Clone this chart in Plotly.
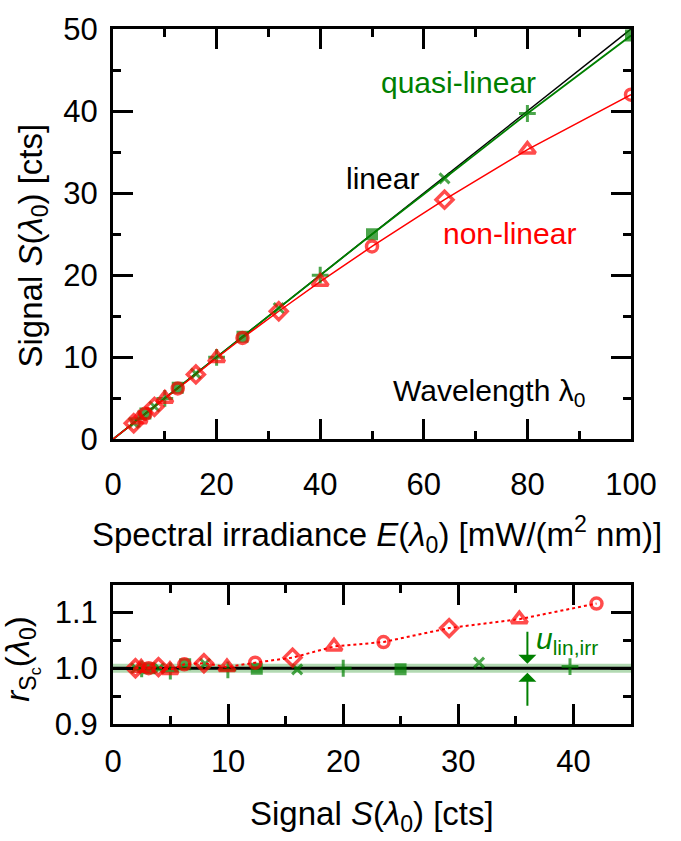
import plotly.graph_objects as go

# ---------------- data ----------------
E_irr = [4, 5, 6.25, 8, 10, 12.5, 16, 20, 25, 32, 40, 50, 64, 80, 100]
S_quasi = [2.0, 2.49, 3.13, 4.0, 4.98, 6.27, 8.0, 9.98, 12.49, 16.0, 20.0, 24.98, 31.8, 39.7, 49.2]
S_nonlin = [1.95, 2.45, 3.1, 3.95, 4.95, 6.2, 7.9, 9.9, 12.35, 15.6, 19.2, 23.5, 29.2, 35.3, 42.0]
E_linear = [0, 100]
S_linear = [0, 50]

r_quasi = [1.0, 0.999, 1.0, 1.0, 0.995, 1.007, 1.008, 0.997, 0.999, 0.998, 1.0, 0.998, 1.010, 1.003]
r_nonlin = [1.0, 1.001, 1.0, 1.002, 0.997, 1.007, 1.009, 1.002, 1.010, 1.019, 1.039, 1.047, 1.072, 1.088, 1.116]
u_lin_irr = 0.008
arrow_S = 36.0
arrow_tail_hi = 1.068
arrow_tail_lo = 0.930

x_ticks_top = [0, 20, 40, 60, 80, 100]
y_ticks_top = [0, 10, 20, 30, 40, 50]
x_ticks_bot = [0, 10, 20, 30, 40]
y_ticks_bot = [0.9, 1.0, 1.1]

# ---------------- styles ----------------
RED = "#ff0000"
GREEN = "#008000"
FONT = "Liberation Sans, Arial, sans-serif"
FS = 30       # in-plot labels
FS_T = 33     # axis titles
FS_K = 31     # tick labels

red_sym_cycle = ["diamond-open", "triangle-up-open", "circle-open"]
red_size_cycle = [13, 14, 11]
green_sym_cycle = ["x-thin-open", "cross-thin-open", "square"]
green_size_cycle = [10, 12, 9]

def cyc(lst, n):
    return [lst[i % 3] for i in range(n)]

n = len(E_irr)
fig = go.Figure()

# ---- top panel ----
fig.add_trace(go.Scatter(x=E_linear, y=S_linear, mode="lines",
                         line=dict(color="black", width=1.5), xaxis="x", yaxis="y", showlegend=False))
fig.add_trace(go.Scatter(x=[0] + E_irr, y=[0] + S_quasi, mode="lines",
                         line=dict(color=GREEN, width=1.8), xaxis="x", yaxis="y", showlegend=False))
fig.add_trace(go.Scatter(x=[0] + E_irr, y=[0] + S_nonlin, mode="lines",
                         line=dict(color=RED, width=1.5), xaxis="x", yaxis="y", showlegend=False))
fig.add_trace(go.Scatter(x=E_irr, y=S_quasi, mode="markers",
                         marker=dict(symbol=cyc(green_sym_cycle, n), size=cyc(green_size_cycle, n),
                                     color=GREEN, line=dict(color=GREEN, width=3)),
                         xaxis="x", yaxis="y", showlegend=False))
fig.add_trace(go.Scatter(x=E_irr, y=S_nonlin, mode="markers",
                         marker=dict(symbol=cyc(red_sym_cycle, n), size=cyc(red_size_cycle, n),
                                     color=RED, line=dict(color=RED, width=3.5)),
                         xaxis="x", yaxis="y", showlegend=False))

# ---- bottom panel ----
nq = len(r_quasi)
fig.add_trace(go.Scatter(x=S_quasi[:nq], y=r_quasi, mode="markers",
                         marker=dict(symbol=cyc(green_sym_cycle, nq), size=cyc(green_size_cycle, nq),
                                     color=GREEN, line=dict(color=GREEN, width=3)),
                         xaxis="x2", yaxis="y2", showlegend=False))
fig.add_trace(go.Scatter(x=S_nonlin, y=r_nonlin, mode="lines+markers",
                         line=dict(color=RED, width=2, dash="dot"),
                         marker=dict(symbol=cyc(red_sym_cycle, n), size=cyc(red_size_cycle, n),
                                     color=RED, line=dict(color=RED, width=3.5)),
                         xaxis="x2", yaxis="y2", showlegend=False))

# band and reference line
fig.add_shape(type="rect", xref="x2 domain", yref="y2", x0=0, x1=1,
              y0=1 - u_lin_irr, y1=1 + u_lin_irr, fillcolor="rgba(0,128,0,0.3)",
              line=dict(width=0), layer="below")
fig.add_shape(type="line", xref="x2 domain", yref="y2", x0=0, x1=1, y0=1, y1=1,
              line=dict(color="black", width=3), layer="below")

axis_common = dict(showline=True, linecolor="black", linewidth=3, mirror="allticks",
                   ticks="inside", ticklen=20, tickwidth=3, tickcolor="black",
                   showgrid=False, zeroline=False,
                   tickfont=dict(family=FONT, size=FS_K, color="black"))

def minor(d):
    return dict(dtick=d, ticklen=8, tickwidth=3, ticks="inside", tickcolor="black")

fig.update_layout(
    width=681, height=841,
    margin=dict(l=113, r=50, t=21, b=117),
    paper_bgcolor="white", plot_bgcolor="white",
    font=dict(family=FONT, size=FS, color="black"),
    xaxis=dict(domain=[0, 1], anchor="y", range=[0, 100], tickvals=x_ticks_top,
               minor=minor(10), ticklabelstandoff=16, **axis_common),
    yaxis=dict(domain=[0.4097, 1], anchor="x", range=[0, 50], tickvals=y_ticks_top,
               minor=minor(5), ticklabelstandoff=6, **axis_common),
    xaxis2=dict(domain=[0, 1], anchor="y2", range=[0, 45], tickvals=x_ticks_bot,
                minor=minor(5), ticklabelstandoff=8, **axis_common),
    yaxis2=dict(domain=[0, 0.2006], anchor="x2", range=[0.9, 1.15], tickvals=y_ticks_bot,
                tickformat=".1f", minor=minor(0.05), ticklabelstandoff=6, **axis_common),
)

ann = []
# axis titles
ann.append(dict(text="Spectral irradiance <i>E</i>(<i>λ</i><sub>0</sub>) [mW/(m<sup>2</sup> nm)]",
                xref="paper", yref="paper", x=0.51, y=0.2731, xanchor="center", yanchor="middle",
                showarrow=False, font=dict(size=FS_T)))
ann.append(dict(text="Signal <i>S</i>(<i>λ</i><sub>0</sub>) [cts]",
                xref="paper", yref="paper", x=0.5, y=-0.1323, xanchor="center", yanchor="middle",
                showarrow=False, font=dict(size=FS_T)))
ann.append(dict(text="Signal <i>S</i>(<i>λ</i><sub>0</sub>) [cts]", textangle=-90,
                xref="paper", yref="paper", x=-0.1544, y=0.6885, xanchor="center", yanchor="middle",
                showarrow=False, font=dict(size=FS_T)))
ann.append(dict(text="<i>r</i><sub>S<sub>c</sub></sub>(<i>λ</i><sub>0</sub>)", textangle=-90,
                xref="paper", yref="paper", x=-0.1757, y=0.0939, xanchor="center", yanchor="middle",
                showarrow=False, font=dict(size=FS_T)))
# in-plot labels
ann.append(dict(text="quasi-linear", xref="x", yref="y", x=51.3, y=43.5, xanchor="left",
                yanchor="middle", showarrow=False, font=dict(size=FS, color=GREEN)))
ann.append(dict(text="linear", xref="x", yref="y", x=44.5, y=31.8, xanchor="left",
                yanchor="middle", showarrow=False, font=dict(size=FS, color="black")))
ann.append(dict(text="non-linear", xref="x", yref="y", x=63.4, y=25.1, xanchor="left",
                yanchor="middle", showarrow=False, font=dict(size=FS, color=RED)))
ann.append(dict(text="Wavelength λ<sub>0</sub>", xref="x", yref="y", x=53.6, y=5.7, xanchor="left",
                yanchor="middle", showarrow=False, font=dict(size=FS, color="black")))
ann.append(dict(text="<i>u</i><sub>lin,irr</sub>", xref="x2", yref="y2", x=36.6, y=1.05,
                xanchor="left", yanchor="middle", showarrow=False,
                font=dict(size=30, color=GREEN)))
# arrows
ann.append(dict(text="", xref="x2", yref="y2", axref="x2", ayref="y2",
                x=arrow_S, y=1 + u_lin_irr, ax=arrow_S, ay=arrow_tail_hi,
                showarrow=True, arrowhead=1, arrowsize=1.5, arrowwidth=2, arrowcolor=GREEN, standoff=0))
ann.append(dict(text="", xref="x2", yref="y2", axref="x2", ayref="y2",
                x=arrow_S, y=1 - u_lin_irr, ax=arrow_S, ay=arrow_tail_lo,
                showarrow=True, arrowhead=1, arrowsize=1.5, arrowwidth=2, arrowcolor=GREEN, standoff=0))
fig.update_layout(annotations=ann)

fig.write_html("out.html")
